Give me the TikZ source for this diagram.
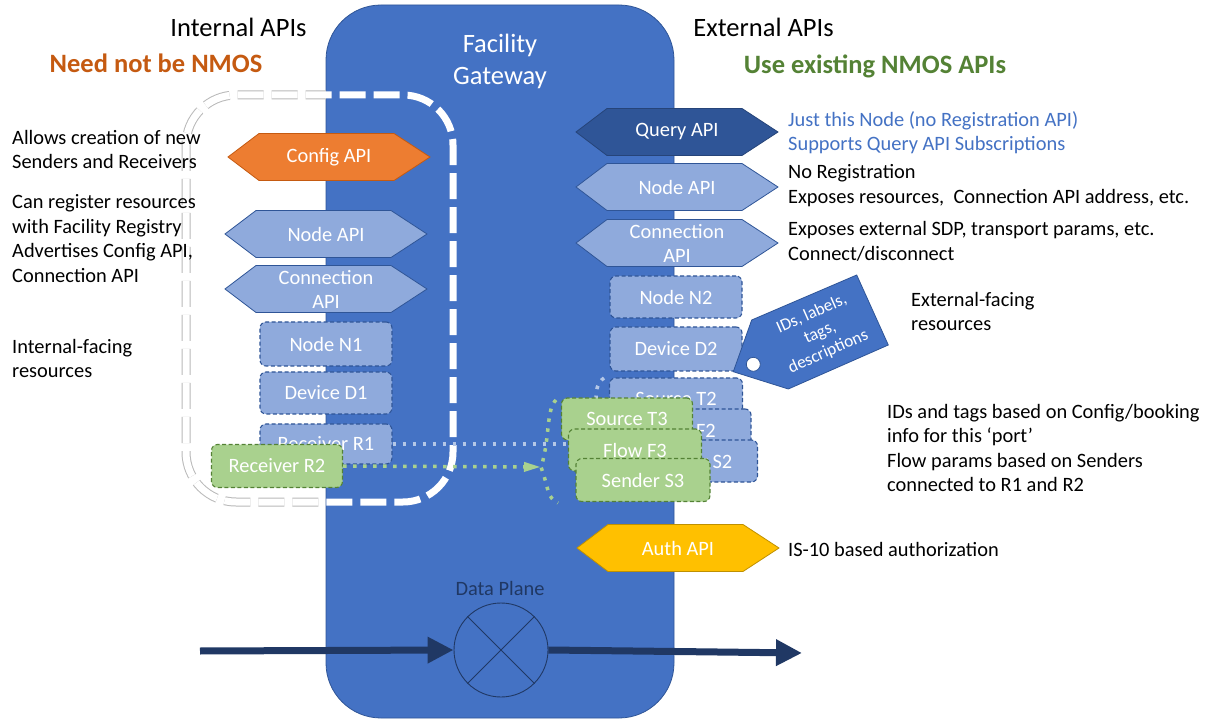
\documentclass[tikz,border=0pt]{standalone}
\usepackage{fontspec}
\setmainfont{Carlito}
\usetikzlibrary{arrows.meta,calc}
\definecolor{gw}{HTML}{4472C4}
\definecolor{lightblue}{HTML}{8FAADC}
\definecolor{darkblue}{HTML}{2F5597}
\definecolor{navy}{HTML}{203864}
\definecolor{greenfill}{HTML}{A9D18E}
\definecolor{greendk}{HTML}{548235}
\definecolor{orangefill}{HTML}{ED7D31}
\definecolor{orangedk}{HTML}{C55A11}
\definecolor{gold}{HTML}{FFC000}
\definecolor{golddk}{HTML}{BF9000}
\definecolor{paleblue}{HTML}{B4C7E7}
\newcommand{\bodyfont}{\fontsize{20.4}{24.5}\selectfont}
\newcommand{\titlefont}{\fontsize{26.5}{32}\selectfont}
\newcommand{\apihex}[5]{%
  \path[#1] ({#3-101},{#4}) -- ({#3-70},{#4-23.5}) -- ({#3+65},{#4-23.5}) -- ({#3+101},{#4}) -- ({#3+65},{#4+23.5}) -- ({#3-70},{#4+23.5}) -- cycle;
  \node[apitxt] (#2) at (#3,#4) {#5};}
\tikzset{
  apitxt/.style={text=white, align=center, font=\fontsize{20.4}{24}\selectfont},
  hexlight/.style={fill=lightblue, draw=darkblue, line width=0.8pt},
  resbox/.style={draw=darkblue, fill=lightblue, dash pattern=on 4pt off 2.5pt, line width=1.1pt,
    rounded corners=6pt, minimum width=132pt, minimum height=43pt, text=white, font=\bodyfont},
  resgreen/.style={resbox, draw=greendk, fill=greenfill},
  bodytxt/.style={anchor=west, align=left, font=\bodyfont},
  outline/.style={rounded corners=50pt, dash pattern=on 26pt off 8pt},
  dotline/.style={line width=3.5pt, dash pattern=on 3.5pt off 6.5pt},
}
\begin{document}
\begin{tikzpicture}[x=1pt,y=-1pt, every node/.style={inner sep=0pt}]
\useasboundingbox (0,0) rectangle (1219,719);
\fill[white] (0,0) rectangle (1219,719);
% gateway
\begin{scope}
\clip (0,0) rectangle (1219,719);
\draw[fill=gw, draw=darkblue, line width=0.8pt, rounded corners=55pt] (326,5) rectangle (674,718);
\end{scope}
\node[text=white, align=center, font=\titlefont] (gwl) at (500,61) {Facility\\Gateway};
% titles
\node[font=\titlefont] (intl) at (238.5,27) {Internal APIs};
\node[font=\titlefont\bfseries, text=orangedk] (need) at (156,63) {Need not be NMOS};
\node[font=\titlefont] (extl) at (763.5,27) {External APIs};
\node[font=\titlefont\bfseries, text=greendk] (use) at (875,66) {Use existing NMOS APIs};
% dashed internal outline
\begin{scope}
\clip (0,0) rectangle (326,719);
\draw[outline, gray!55, line width=9pt] (186,95) rectangle (453,502);
\end{scope}
\draw[outline, white, line width=7pt] (186,95) rectangle (453,502);
% left texts
\node[bodytxt] (t1) at (12,149.5) {Allows creation of new\\Senders and Receivers};
\node[bodytxt] (t2) at (12,238.75) {Can register resources\\with Facility Registry\\Advertises Config API,\\Connection API};
\node[bodytxt] (t3) at (12,358.5) {Internal-facing\\resources};
% right texts
\node[bodytxt, text=gw] (t4) at (788,132.5) {Just this Node (no Registration API)\\Supports Query API Subscriptions};
\node[bodytxt] (t5) at (788,185.5) {No Registration\\Exposes resources,~ Connection API address, etc.};
\node[bodytxt] (t6) at (788,241.5) {Exposes external SDP, transport params, etc.\\Connect/disconnect};
\node[bodytxt] (t7) at (911,311.5) {External-facing\\resources};
\node[bodytxt] (t8) at (887,447.75) {IDs and tags based on Config/booking\\info for this ‘port’\\Flow params based on Senders\\connected to R1 and R2};
\node[bodytxt] (t9) at (788,549) {IS-10 based authorization};
% API hexagons
\apihex{fill=orangefill, draw=orangedk, line width=0.8pt}{cfg}{329}{157}{Config API}
\apihex{hexlight}{inode}{326}{234}{Node API}
\apihex{hexlight}{iconn}{326}{289}{Connection\\API}
\apihex{fill=darkblue, draw=darkblue!80!black, line width=0.8pt}{qry}{677}{132}{Query API}
\apihex{hexlight}{enode}{677}{187}{Node API}
\apihex{hexlight}{econn}{677}{243}{Connection\\API}
\apihex{fill=gold, draw=golddk, line width=0.8pt}{auth}{678}{548}{Auth API}
% internal resources
\node[resbox, minimum height=44pt] (n1) at (326,344) {Node N1};
\node[resbox, minimum height=42pt] (d1) at (326,393) {Device D1};
\node[resbox, minimum height=40pt] (r1) at (326,444) {Receiver R1};
\node[resgreen, minimum width=131pt] (r2) at (277,466) {Receiver R2};
% external resources (blue stack)
\node[resbox, minimum height=42pt] (n2) at (676,297) {Node N2};
\node[resbox, minimum height=44pt] (d2) at (676,349) {Device D2};
\draw[paleblue, dotline] (604,378) .. controls (597,383) and (596,390) .. (596,400);
\node[resbox, minimum width=133pt, minimum height=42pt] (t2b) at (676,399) {Source T2};
\node[resbox, minimum width=134pt, minimum height=42pt] (f2) at (684,430) {Flow F2};
\node[resbox, minimum width=133pt, minimum height=42pt] (s2) at (691,461) {Sender S2};
% connectors
\coordinate (brtip) at (541,467);
\draw[paleblue, dotline] (r1.east) -- (r1.east -| 569,0);
\draw[greenfill, dotline, -{Triangle[length=17pt,width=9pt]}] (r2.east) -- (brtip);
\draw[greenfill, dotline] (556,400) .. controls (546,409) and (550,440) .. (brtip) .. controls (550,492) and (546,496) .. (558,503);
% green stack
\node[resgreen, minimum width=131pt, minimum height=42pt] (t3g) at (627,419) {Source T3};
\node[resgreen, minimum width=133pt, minimum height=42pt] (f3) at (635,450) {Flow F3};
\node[resgreen, minimum width=134pt, minimum height=43pt] (s3) at (643,480) {Sender S3};
% tag
\draw[fill=gw, draw=darkblue, line width=0.8pt] (733.3,371.7) -- (751.7,320) -- (856.7,275) -- (888.3,345) -- (788.3,389) -- cycle;
\draw[fill=white, draw=darkblue, line width=0.8pt] (753.3,364.3) circle (7pt);
\node[rotate=24, text=white, align=center, font=\fontsize{17.3}{20.5}\selectfont] (tagl) at (820,333) {IDs, labels,\\tags,\\descriptions};
% data plane
\node[text=navy, font=\bodyfont] (dpl) at (500,588) {Data Plane};
\node[circle, draw=navy, line width=0.9pt, minimum size=94pt] (dp) at (501,650) {};
\draw[navy, line width=0.9pt] (dp.north west) -- (dp.south east) (dp.north east) -- (dp.south west);
\coordinate (ins) at (200,651);
\coordinate (oute) at (802,653);
\draw[navy, line width=7pt, -{Triangle[length=26pt,width=25pt]}] (ins) -- (dp.west);
\draw[navy, line width=7pt, -{Triangle[length=26pt,width=25pt]}] (dp.east) -- (oute);
\end{tikzpicture}
\end{document}
